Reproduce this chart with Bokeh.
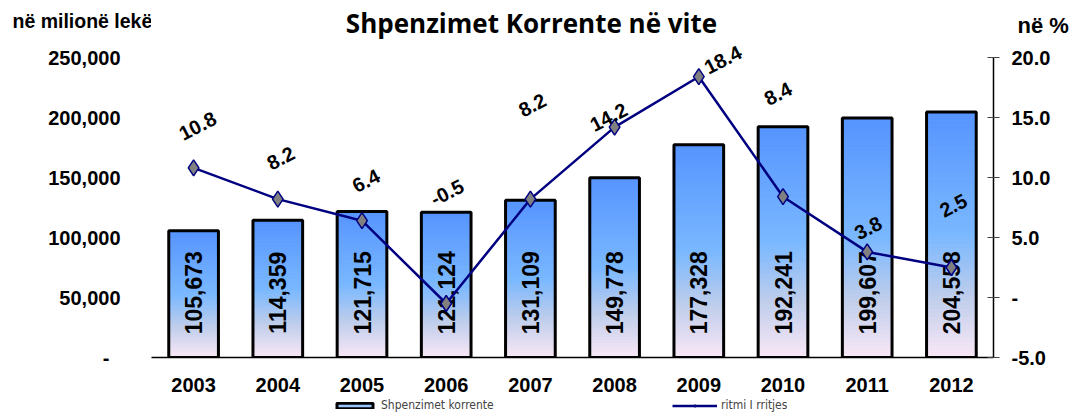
from bokeh.plotting import figure
from bokeh.layouts import column, row
from bokeh.models import (ColumnDataSource, FactorRange, Range1d, LinearAxis, FixedTicker,
                          CustomJSTickFormatter, Label, Legend, LegendItem)
from bokeh.core.properties import value
from bokeh.embed import file_html
from bokeh.resources import INLINE
import math

years = ["2003", "2004", "2005", "2006", "2007", "2008", "2009", "2010", "2011", "2012"]
spending = [105673, 114359, 121715, 121124, 131109, 149778, 177328, 192241, 199607, 204558]
growth = [10.8, 8.2, 6.4, -0.5, 8.2, 14.2, 18.4, 8.4, 3.8, 2.5]
spending_ticks = [0, 50000, 100000, 150000, 200000, 250000]
growth_ticks = [-5, 0, 5, 10, 15, 20]
title_text = "Shpenzimet Korrente në vite"
left_unit = "në milionë lekë"
right_unit = "në %"
legend_bar = "Shpenzimet korrente"
legend_line = "ritmi I rritjes"

# label offsets in screen pixels (style only)
label_dx = [4, 3, 4, 1, 2, -6, 24, -5, 1, 2]
label_dy = [42, 41, 40, 111, 94, 10, 17, 103, 24, 62]

FONT = "Liberation Sans"
W = 1075
LEFT, RIGHT = 151, W - 993
EXTRA = 18            # pixels of frame above the axis top (room for labels)
TOP_H = 57 - EXTRA    # title strip height


def box(w, h):
    f = figure(width=w, height=h, x_range=Range1d(0, 1), y_range=Range1d(0, 1),
               output_backend="svg", toolbar_location=None, x_axis_location=None,
               y_axis_location=None, min_border=0, min_border_left=0,
               min_border_right=0, min_border_top=0, min_border_bottom=0)
    f.grid.visible = False
    f.outline_line_color = None
    return f


# ---- top strip with titles (three boxes in a row)
t_left = box(LEFT, TOP_H)
t_left.add_layout(Label(x=12, y=TOP_H - 20, x_units="screen", y_units="screen",
                        text=left_unit, text_align="left", text_baseline="middle",
                        text_font=FONT, text_font_style="bold", text_font_size="19.5px",
                        text_color="black"))
t_mid = box(W - LEFT - RIGHT, TOP_H)
t_mid.add_layout(Label(x=531 - LEFT, y=TOP_H - 22, x_units="screen", y_units="screen",
                       text=title_text, text_align="center", text_baseline="middle",
                       text_font="Open Sans", text_font_style="bold", text_font_size="26px",
                       text_color="black"))
t_right = box(RIGHT, TOP_H)
t_right.add_layout(Label(x=1017 - 993, y=TOP_H - 25, x_units="screen", y_units="screen",
                         text=right_unit, text_align="left", text_baseline="middle",
                         text_font=FONT, text_font_style="bold", text_font_size="22px",
                         text_color="black"))
top = row(t_left, t_mid, t_right, spacing=0)

# ---- main chart
y_top = spending_ticks[-1] + EXTRA / 300 * (spending_ticks[-1] - spending_ticks[0])
pct_top = growth_ticks[-1] + EXTRA / 300 * (growth_ticks[-1] - growth_ticks[0])
p = figure(x_range=FactorRange(*years), y_range=Range1d(0, y_top),
           width=W, height=300 + EXTRA + 40, output_backend="svg", toolbar_location=None,
           min_border_left=LEFT, min_border_right=RIGHT, min_border_top=0, min_border_bottom=40)
p.extra_y_ranges = {"pct": Range1d(growth_ticks[0], pct_top)}
p.xgrid.visible = False
p.ygrid.visible = False
p.outline_line_color = None

stops = [(0.0, (86, 148, 255)), (0.5, (122, 184, 255)), (0.75, (190, 205, 235)), (1.0, (250, 232, 246))]


def grad(t):
    for (t0, c0), (t1, c1) in zip(stops[:-1], stops[1:]):
        if t <= t1:
            f = (t - t0) / (t1 - t0)
            return "#%02x%02x%02x" % tuple(int(round(a + (b - a) * f)) for a, b in zip(c0, c1))
    return "#%02x%02x%02x" % stops[-1][1]


N = 60
xs, bots, tops, cols = [], [], [], []
for yr, v in zip(years, spending):
    for k in range(N):
        xs.append(yr)
        bots.append(v * k / N)
        tops.append(v * (k + 1) / N)
        cols.append(grad(1 - (k + 0.5) / N))
p.vbar(x=xs, bottom=bots, top=tops, width=0.59, fill_color=cols, line_color=cols, line_width=1)

bar_src = ColumnDataSource(dict(x=years, top=spending, txt=[f"{v:,}" for v in spending],
                                ly=[54000] * len(years)))
p.vbar(x="x", top="top", width=0.59, source=bar_src, fill_alpha=0, line_color="black", line_width=3)
p.text(x="x", y="ly", text="txt", source=bar_src, angle=math.pi / 2,
       text_align="center", text_baseline="middle", text_font=value(FONT),
       text_font_style="bold", text_font_size="23px", text_color="black")

g_src = ColumnDataSource(dict(x=years, y=growth, txt=[f"{v:.1f}" for v in growth],
                              dx=label_dx, dy=[-d for d in label_dy]))
p.line(x="x", y="y", source=g_src, y_range_name="pct", line_color="#000080", line_width=2.5)
p.scatter(x="x", y="y", source=g_src, y_range_name="pct", marker="diamond", size=16,
          fill_color="#808080", line_color="#000080", line_width=1.5)
p.text(x="x", y="y", text="txt", source=g_src, y_range_name="pct", x_offset="dx", y_offset="dy",
       angle=math.radians(27), text_align="center", text_baseline="middle",
       text_font=value(FONT), text_font_style="bold", text_font_size="20px", text_color="black")

xa = p.xaxis[0]
xa.axis_line_color = "black"
xa.axis_line_width = 1.5
xa.major_tick_line_color = None
xa.minor_tick_line_color = None
xa.major_label_text_font = FONT
xa.major_label_text_font_style = "bold"
xa.major_label_text_font_size = "20px"
xa.major_label_text_color = "black"
xa.major_label_standoff = 14

ya = p.yaxis[0]
ya.ticker = FixedTicker(ticks=spending_ticks)
ya.bounds = (spending_ticks[0], spending_ticks[-1])
ya.formatter = CustomJSTickFormatter(code="""
if (tick == 0) { return "-\\u00a0\\u00a0"; }
return Math.round(tick).toString().replace(/\\B(?=(\\d{3})+(?!\\d))/g, ",");
""")
ya.axis_line_color = None
ya.major_tick_line_color = None
ya.minor_tick_line_color = None
ya.major_label_text_font = FONT
ya.major_label_text_font_style = "bold"
ya.major_label_text_font_size = "20px"
ya.major_label_text_color = "black"
ya.major_label_standoff = 25

ra = LinearAxis(y_range_name="pct", ticker=FixedTicker(ticks=growth_ticks),
                bounds=(growth_ticks[0], growth_ticks[-1]),
                formatter=CustomJSTickFormatter(code="""
if (tick == 0) { return "-"; }
return tick.toFixed(1);
"""))
ra.axis_line_color = "black"
ra.axis_line_width = 1.5
ra.major_tick_in = 6
ra.major_tick_out = 6
ra.major_tick_line_color = "#444444"
ra.minor_tick_line_color = None
ra.major_label_text_font = FONT
ra.major_label_text_font_style = "bold"
ra.major_label_text_font_size = "20px"
ra.major_label_text_color = "black"
ra.major_label_standoff = 12
p.add_layout(ra, "right")

# ---- legend strip
LEG_H = 22
leg = figure(width=W, height=LEG_H, x_range=Range1d(0, 1), y_range=Range1d(0, 1),
             output_backend="svg", toolbar_location=None, x_axis_location=None,
             y_axis_location=None, min_border=0, min_border_left=LEFT,
             min_border_right=RIGHT, min_border_top=0, min_border_bottom=0)
leg.grid.visible = False
leg.outline_line_color = None
src_far = ColumnDataSource(dict(x=[10], y=[10]))
r_bar = leg.rect(x="x", y="y", width=0.1, height=0.1, source=src_far, fill_color="#9cc4ff",
                 line_color="black", line_width=3)
r_line = leg.line(x="x", y="y", source=src_far, line_color="#000080", line_width=2.5)
r_mark = leg.scatter(x="x", y="y", source=src_far, marker="diamond", size=11,
                     fill_color="#808080", line_color="#000080")
for items, loc in [([LegendItem(label=legend_bar, renderers=[r_bar])], (332 - LEFT, 7)),
                   ([LegendItem(label=legend_line, renderers=[r_line, r_mark])], (672 - LEFT, 7))]:
    lg = Legend(items=items, location=loc, orientation="horizontal",
                glyph_width=45, glyph_height=7,
                label_text_font="'DejaVu Sans Condensed', 'Liberation Sans'",
                label_text_font_size="12px", label_standoff=4, padding=0, margin=0,
                border_line_color=None, background_fill_alpha=0, label_height=14)
    leg.add_layout(lg, "center")

layout = column(top, p, leg, spacing=0)
open("out.html", "w").write(file_html(layout, INLINE))
